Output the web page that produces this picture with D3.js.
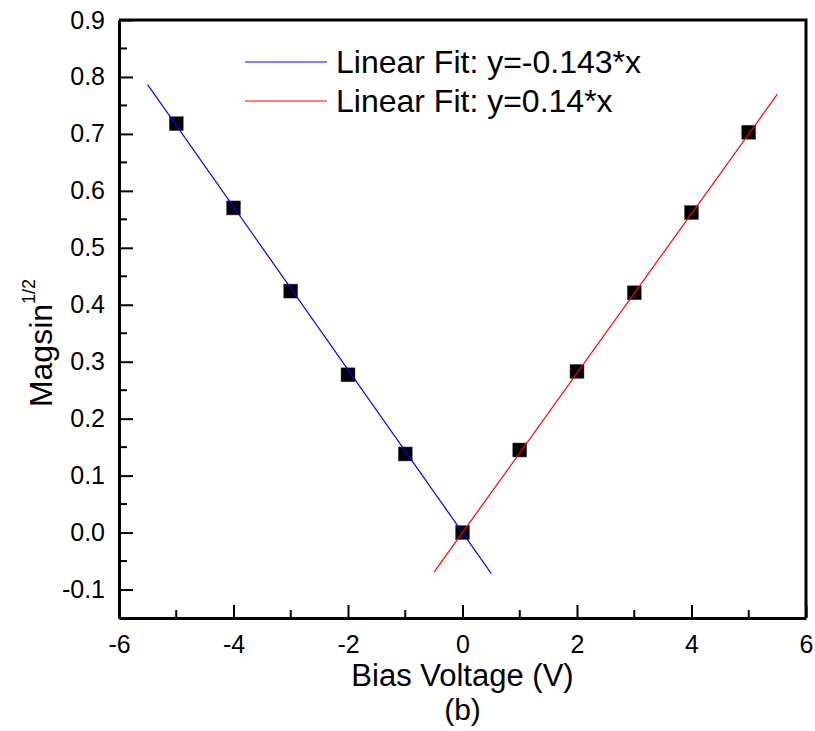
<!DOCTYPE html>
<html>
<head>
<meta charset="utf-8">
<script src="https://cdn.jsdelivr.net/npm/d3@7"></script>
<style>
  body { margin: 0; background: #fff; }
  text { font-family: Arial, "Liberation Sans", sans-serif; fill: #000; }
</style>
</head>
<body>
<svg id="chart" width="815" height="731"></svg>
<script>
// data
const biasV = [-5, -4, -3, -2, -1, 0, 1, 2, 3, 4, 5];
const magsin = [0.718, 0.570, 0.424, 0.277, 0.138, 0.0, 0.145, 0.283, 0.421, 0.562, 0.703];
const fitNegRange = [-5.5, 0.5];
const fitPosRange = [-0.5, 5.5];
const fitNegSlope = -0.143;
const fitPosSlope = 0.14;
const xTicks = [-6, -4, -2, 0, 2, 4, 6];
const yTicks = [-0.1, 0, 0.1, 0.2, 0.3, 0.4, 0.5, 0.6, 0.7, 0.8, 0.9];
const legendLabels = ["Linear Fit: y=-0.143*x", "Linear Fit: y=0.14*x"];

const svg = d3.select("#chart");
const margin = {top: 20, right: 9, bottom: 113, left: 119};
const width = 815 - margin.left - margin.right;
const height = 731 - margin.top - margin.bottom;

const x = d3.scaleLinear().domain([-6, 6]).range([0, width]);
const y = d3.scaleLinear().domain([-0.15, 0.9]).range([height, 0]);
const hyphen = f => d => f(d).replace("\u2212", "-");

const g = svg.append("g")
    .attr("transform", "translate(" + margin.left + "," + margin.top + ")");

// frame top/right
g.append("path")
    .attr("d", "M0,0H" + width + "V" + height)
    .attr("fill", "none").attr("stroke", "#000").attr("stroke-width", 3);

// minor ticks
const xMinor = d3.range(-5, 6, 2);
const yMinor = d3.range(-0.15, 0.9, 0.1).map(v => +v.toFixed(2));
g.selectAll(".xminor").data(xMinor).enter().append("line")
    .attr("x1", d => x(d)).attr("x2", d => x(d))
    .attr("y1", height).attr("y2", height - 8)
    .attr("stroke", "#000").attr("stroke-width", 2);
g.selectAll(".yminor").data(yMinor).enter().append("line")
    .attr("x1", 0).attr("x2", 8)
    .attr("y1", d => y(d)).attr("y2", d => y(d))
    .attr("stroke", "#000").attr("stroke-width", 2);

const xAxis = g.append("g")
    .attr("transform", "translate(0," + height + ")")
    .call(d3.axisBottom(x).tickValues(xTicks).tickSizeInner(-13).tickSizeOuter(0).tickPadding(17)
        .tickFormat(hyphen(d3.format("d"))));
const yAxis = g.append("g")
    .call(d3.axisLeft(y).tickValues(yTicks).tickSizeInner(-14).tickSizeOuter(0).tickPadding(28)
        .tickFormat(hyphen(d3.format(".1f"))));

[xAxis, yAxis].forEach(a => {
  a.select(".domain").attr("stroke-width", 3);
  a.selectAll(".tick line").attr("stroke-width", 2);
  a.selectAll(".tick text").attr("font-size", 25).attr("font-family", "Arial, 'Liberation Sans', sans-serif");
});
yAxis.selectAll(".tick text").attr("dx", "14");

// fit lines and markers
const line = d3.line().x(d => x(d[0])).y(d => y(d[1]));
const s = 14;
g.selectAll(".pt").data(biasV).enter().append("rect")
    .attr("x", (d) => x(d) - s / 2)
    .attr("y", (d, i) => y(magsin[i]) - s / 2)
    .attr("width", s).attr("height", s)
    .attr("fill", "#000").attr("stroke", "#555").attr("stroke-width", 0.5);

g.append("path")
    .datum(fitNegRange.map(v => [v, fitNegSlope * v]))
    .attr("d", line).attr("stroke", "#0000ff").attr("stroke-width", 1.2).attr("fill", "none");
g.append("path")
    .datum(fitPosRange.map(v => [v, fitPosSlope * v]))
    .attr("d", line).attr("stroke", "#ff0000").attr("stroke-width", 1.2).attr("fill", "none");

// legend
const legColors = ["#0000ff", "#ff0000"];
const leg = svg.append("g");
legendLabels.forEach((t, i) => {
  const ly = 62 + i * 39;
  leg.append("line").attr("x1", 245).attr("x2", 327).attr("y1", ly).attr("y2", ly)
      .attr("stroke", legColors[i]).attr("stroke-width", 1.2);
  leg.append("text").attr("x", 336).attr("y", ly + 11).attr("font-size", 32).text(t);
});

// axis titles
svg.append("text").attr("x", margin.left + x(0)).attr("y", 686)
    .attr("text-anchor", "middle").attr("font-size", 31).text("Bias Voltage (V)");
svg.append("text").attr("x", margin.left + x(0)).attr("y", 720)
    .attr("text-anchor", "middle").attr("font-size", 30).text("(b)");

const yt = svg.append("text")
    .attr("transform", "translate(52,343) rotate(-90)")
    .attr("text-anchor", "middle").attr("font-size", 32);
yt.append("tspan").text("Magsin");
yt.append("tspan").attr("font-size", 18).attr("dy", -17).text("1/2");
</script>
</body>
</html>
